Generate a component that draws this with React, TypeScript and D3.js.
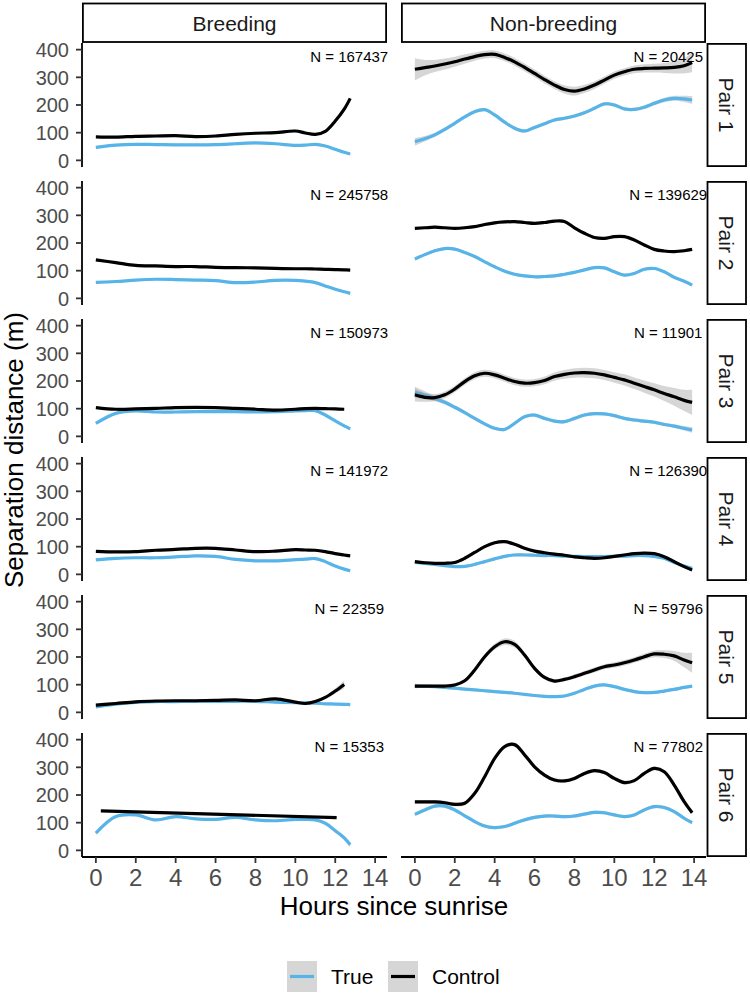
import React from 'react';
import * as d3 from 'd3';

const seasons = ['Breeding', 'Non-breeding'];
const pairLabels = ['Pair 1', 'Pair 2', 'Pair 3', 'Pair 4', 'Pair 5', 'Pair 6'];
const breedingN = [167437, 245758, 150973, 141972, 22359, 15353];
const nonBreedingN = [20425, 139629, 11901, 126390, 59796, 77802];
const xTicks = [0, 2, 4, 6, 8, 10, 12, 14];
const yTicks = [0, 100, 200, 300, 400];

// hours since sunrise at which the smoothed curves were read
const breedHours = [0, 1, 2, 3, 4, 5, 6, 7, 8, 9, 10, 10.5, 11, 11.5, 12, 12.45, 12.75];
const nbHours = [0, 0.5, 1, 1.5, 2, 2.5, 3, 3.5, 4, 4.5, 5, 5.5, 6, 6.5, 7, 7.5, 8, 8.5, 9, 9.5, 10, 10.5, 11, 11.5, 12, 12.5, 13, 13.5, 13.9];
const breedP6ControlHours = [0.25, 12.07];

// breeding season, one array per pair
const breedTrue = [
  [47, 55, 58, 57, 56, 56, 57, 60, 63, 60, 54, 55, 58, 52, 40, 29, 23],
  [58, 61, 66, 69, 68, 66, 64, 57, 59, 65, 65, 62, 57, 45, 33, 24, 18],
  [47, 83, 92, 88, 88, 89, 89, 89, 88, 89, 92, 93, 93, 77, 56, 38, 27],
  [52, 58, 60, 60, 63, 67, 65, 54, 49, 49, 53, 55, 57, 46, 30, 19, 13],
  [20, 30, 36, 39, 39, 40, 40, 40, 40, 37, 35, 34, 33, 31, 30, 29, 28],
  [62, 122, 128, 110, 122, 114, 112, 119, 110, 107, 112, 112, 110, 98, 71, 45, 20],
];
const breedControl = [
  [85, 84, 87, 88, 89, 86, 88, 94, 98, 100, 106, 99, 94, 105, 142, 185, 224],
  [139, 129, 119, 117, 115, 115, 112, 111, 110, 108, 107, 107, 106, 105, 104, 103, 102],
  [104, 98, 99, 101, 104, 105, 104, 101, 98, 95, 98, 100, 101, 100, 99, 98, null],
  [83, 81, 82, 87, 90, 94, 94, 88, 82, 84, 89, 88, 87, 82, 75, 70, 67],
  [26, 32, 38, 41, 42, 42, 43, 45, 42, 49, 37, 32, 39, 54, 77, 101, null],
  [143, 118],
];

// non-breeding season
const nbTrue = [
  [67, 78, 92, 112, 134, 157, 176, 183, 164, 138, 116, 106, 119, 132, 146, 152, 160, 172, 188, 204, 200, 186, 184, 192, 206, 218, 224, 222, 218],
  [142, 158, 172, 180, 178, 166, 151, 132, 114, 98, 87, 81, 78, 79, 81, 87, 94, 103, 111, 110, 96, 84, 90, 105, 108, 96, 76, 62, 48],
  [159, 149, 137, 123, 105, 86, 65, 45, 29, 25, 47, 71, 77, 65, 55, 53, 65, 77, 82, 81, 75, 65, 59, 55, 51, 43, 37, 29, 23],
  [43, 40, 36, 31, 28, 29, 36, 46, 56, 65, 70, 70, 69, 68, 68, 66, 65, 64, 64, 64, 65, 66, 68, 68, 65, 58, 43, 30, 22],
  [95, 94, 93, 90, 87, 84, 81, 78, 75, 72, 69, 65, 61, 58, 57, 59, 69, 83, 95, 99, 93, 83, 75, 71, 72, 77, 83, 90, 95],
  [130, 146, 160, 160, 146, 125, 104, 88, 82, 86, 98, 110, 119, 124, 124, 122, 124, 131, 137, 136, 128, 122, 128, 146, 158, 155, 140, 116, 100],
];
const nbControl = [
  [329, 335, 341, 348, 356, 366, 375, 382, 383, 372, 356, 336, 314, 292, 272, 256, 250, 258, 272, 290, 308, 320, 329, 332, 333, 334, 336, 342, 353],
  [253, 255, 257, 255, 253, 255, 259, 267, 273, 276, 277, 274, 271, 274, 279, 278, 255, 235, 220, 217, 223, 223, 211, 193, 177, 171, 169, 172, 177],
  [150, 141, 140, 150, 171, 198, 219, 228, 222, 210, 198, 192, 194, 202, 216, 224, 229, 230, 228, 222, 213, 204, 192, 180, 168, 155, 143, 130, 123],
  [46, 42, 40, 40, 43, 58, 79, 100, 114, 118, 109, 94, 84, 78, 73, 69, 63, 60, 58, 60, 65, 70, 75, 77, 75, 64, 46, 28, 16],
  [95, 95, 95, 95, 99, 114, 153, 201, 237, 255, 246, 207, 159, 126, 113, 119, 129, 141, 153, 165, 171, 179, 189, 201, 211, 210, 204, 189, 179],
  [175, 175, 175, 172, 166, 170, 206, 266, 332, 375, 382, 345, 302, 272, 254, 251, 260, 278, 288, 281, 260, 245, 252, 278, 296, 284, 236, 176, 136],
];

// half-width of the confidence bands (m)
const breedTrueSe = [4, 4, 4, 4, 4, [6, 4, 4, 4, 4, 4, 4, 4, 4, 4, 4, 4, 4, 5, 6, 8, 10]];
const breedControlSe = [4, 4, 4, 4, [5, 4, 4, 4, 4, 4, 4, 4, 4, 4, 4, 4, 5, 6, 9, 14, null], 4];
const nbTrueSe = [
  [14, 10, 8, 7, 6, 6, 6, 6, 6, 6, 6, 6, 6, 6, 6, 6, 6, 6, 6, 6, 6, 6, 6, 6, 7, 8, 9, 11, 14],
  5,
  [20, 14, 10, 8, 7, 6, 6, 6, 6, 6, 6, 6, 6, 6, 6, 6, 6, 6, 6, 6, 6, 6, 6, 6, 6, 6, 7, 8, 10],
  5, 5, 6,
];
const nbControlSe = [
  [40, 28, 22, 20, 18, 17, 15, 14, 14, 14, 14, 14, 14, 14, 14, 15, 16, 15, 14, 13, 13, 13, 14, 15, 16, 18, 22, 28, 35],
  5,
  [24, 16, 13, 12, 12, 12, 13, 13, 13, 13, 13, 13, 13, 14, 15, 16, 17, 18, 18, 18, 19, 20, 21, 22, 24, 27, 32, 38, 45],
  5,
  [8, 6, 6, 6, 6, 6, 7, 9, 11, 12, 12, 10, 8, 7, 7, 7, 8, 8, 9, 9, 10, 10, 10, 11, 12, 14, 18, 26, 36],
  7,
];

const FONT = '"Liberation Sans", Arial, Helvetica, sans-serif';
const W = 750;
const H = 994;
const PANEL_X = [82, 401];
const PANEL_W = 305;
const ROW_Y0 = 43;
const ROW_STEP = 138;
const PANEL_H = 124;
const BLUE = '#56B4E9';

type Pt = { h: number; v: number | null; s: number };

function toPoints(hours: number[], values: (number | null)[], se: number | (number | null)[]): Pt[] {
  return hours.map((h, i) => ({
    h,
    v: values[i],
    s: Array.isArray(se) ? (se[i] ?? 0) : se,
  }));
}

export default function App() {
  const xScale = (col: number) =>
    d3.scaleLinear().domain([-0.695, 14.595]).range([PANEL_X[col], PANEL_X[col] + PANEL_W]);
  const yScale = (row: number) =>
    d3.scaleLinear().domain([-24, 424]).range([ROW_Y0 + row * ROW_STEP + PANEL_H, ROW_Y0 + row * ROW_STEP]);

  const curve = d3.curveCatmullRom.alpha(0.5);

  const panels: React.ReactNode[] = [];
  pairLabels.forEach((pair, row) => {
    seasons.forEach((season, col) => {
      const x = xScale(col);
      const y = yScale(row);
      const line = d3.line<Pt>().defined(d => d.v != null).x(d => x(d.h)).y(d => y(d.v as number)).curve(curve);
      const area = d3.area<Pt>().defined(d => d.v != null).x(d => x(d.h))
        .y0(d => y((d.v as number) - d.s)).y1(d => y((d.v as number) + d.s)).curve(curve);

      let truePts: Pt[];
      let ctrlPts: Pt[];
      if (col === 0) {
        truePts = toPoints(breedHours, breedTrue[row], breedTrueSe[row] as any);
        ctrlPts = row === 5
          ? toPoints(breedP6ControlHours, breedControl[row], breedControlSe[row] as any)
          : toPoints(breedHours, breedControl[row], breedControlSe[row] as any);
      } else {
        truePts = toPoints(nbHours, nbTrue[row], nbTrueSe[row] as any);
        ctrlPts = toPoints(nbHours, nbControl[row], nbControlSe[row] as any);
      }
      const clipId = `clip-${row}-${col}`;
      const top = ROW_Y0 + row * ROW_STEP;
      const n = col === 0 ? breedingN[row] : nonBreedingN[row];
      panels.push(
        <g key={`${season}-${pair}`}>
          <clipPath id={clipId}>
            <rect x={PANEL_X[col]} y={top} width={PANEL_W} height={PANEL_H} />
          </clipPath>
          <g clipPath={`url(#${clipId})`}>
            <path d={area(truePts) || ''} fill="#999999" fillOpacity={0.4} />
            <path d={line(truePts) || ''} fill="none" stroke={BLUE} strokeWidth={3.2} />
            <path d={area(ctrlPts) || ''} fill="#999999" fillOpacity={0.4} />
            <path d={line(ctrlPts) || ''} fill="none" stroke="#000" strokeWidth={3.2} />
          </g>
          <text x={x(12.7)} y={y(375) + 5} textAnchor="middle" fontSize={15} fill="#000">
            {`N = ${n}`}
          </text>
        </g>
      );
    });
  });

  // y axes (left column only)
  const yAxes = pairLabels.map((_, row) => {
    const y = yScale(row);
    const top = ROW_Y0 + row * ROW_STEP;
    return (
      <g key={`ya-${row}`}>
        <line x1={PANEL_X[0]} x2={PANEL_X[0]} y1={top} y2={top + PANEL_H} stroke="#000" strokeWidth={1.8} />
        {yTicks.map(t => (
          <g key={t}>
            <line x1={PANEL_X[0] - 6} x2={PANEL_X[0]} y1={y(t)} y2={y(t)} stroke="#333" strokeWidth={1.8} />
            <text x={69} y={y(t)} dy="0.36em" textAnchor="end" fontSize={20} fill="#4D4D4D">{t}</text>
          </g>
        ))}
      </g>
    );
  });

  // x axes (bottom row only)
  const bottom = ROW_Y0 + 5 * ROW_STEP + PANEL_H;
  const xAxes = seasons.map((s, col) => {
    const x = xScale(col);
    return (
      <g key={`xa-${s}`}>
        <line x1={PANEL_X[col]} x2={PANEL_X[col] + PANEL_W} y1={bottom} y2={bottom} stroke="#000" strokeWidth={1.8} />
        {xTicks.map(t => (
          <g key={t}>
            <line x1={x(t)} x2={x(t)} y1={bottom} y2={bottom + 6} stroke="#333" strokeWidth={1.8} />
            <text x={x(t)} y={bottom + 29} textAnchor="middle" fontSize={24} fill="#4D4D4D">{t}</text>
          </g>
        ))}
      </g>
    );
  });

  const colStrips = seasons.map((s, col) => (
    <g key={`cs-${s}`}>
      <rect x={PANEL_X[col] + 0.9} y={3.5} width={PANEL_W - 1.8} height={38.5} fill="#fff" stroke="#000" strokeWidth={1.8} />
      <text x={PANEL_X[col] + PANEL_W / 2} y={30.5} textAnchor="middle" fontSize={21} fill="#1A1A1A">{s}</text>
    </g>
  ));

  const rowStrips = pairLabels.map((p, row) => {
    const top = ROW_Y0 + row * ROW_STEP;
    const cx = 726.5;
    const cy = top + PANEL_H / 2;
    return (
      <g key={`rs-${p}`}>
        <rect x={707.5} y={top + 0.9} width={38.5} height={PANEL_H - 1.8} fill="#fff" stroke="#000" strokeWidth={1.8} />
        <text transform={`translate(${cx},${cy}) rotate(90)`} textAnchor="middle" dy="0.36em" fontSize={21} fill="#1A1A1A">{p}</text>
      </g>
    );
  });

  const legendItems = [
    { label: 'True', color: BLUE, x: 287 },
    { label: 'Control', color: '#000', x: 388 },
  ];

  return (
    <svg width={W} height={H} style={{ position: 'absolute', left: 0, top: 0, background: '#fff' }} fontFamily={FONT}>
      <rect width={W} height={H} fill="#fff" />
      {panels}
      {yAxes}
      {xAxes}
      {colStrips}
      {rowStrips}
      <text x={(PANEL_X[0] + PANEL_X[1] + PANEL_W) / 2} y={915} textAnchor="middle" fontSize={26} fill="#000">
        Hours since sunrise
      </text>
      <text transform={`translate(23,${ROW_Y0 + (5 * ROW_STEP + PANEL_H) / 2}) rotate(-90)`} textAnchor="middle" fontSize={26} fill="#000">
        Separation distance (m)
      </text>
      {legendItems.map(item => (
        <g key={item.label}>
          <rect x={item.x} y={961} width={30} height={31} fill="#999999" fillOpacity={0.4} />
          <line x1={item.x + 3} x2={item.x + 27} y1={976.5} y2={976.5} stroke={item.color} strokeWidth={3.2} />
          <text x={item.x + 44} y={976.5} dy="0.36em" fontSize={21} fill="#000">{item.label}</text>
        </g>
      ))}
    </svg>
  );
}
